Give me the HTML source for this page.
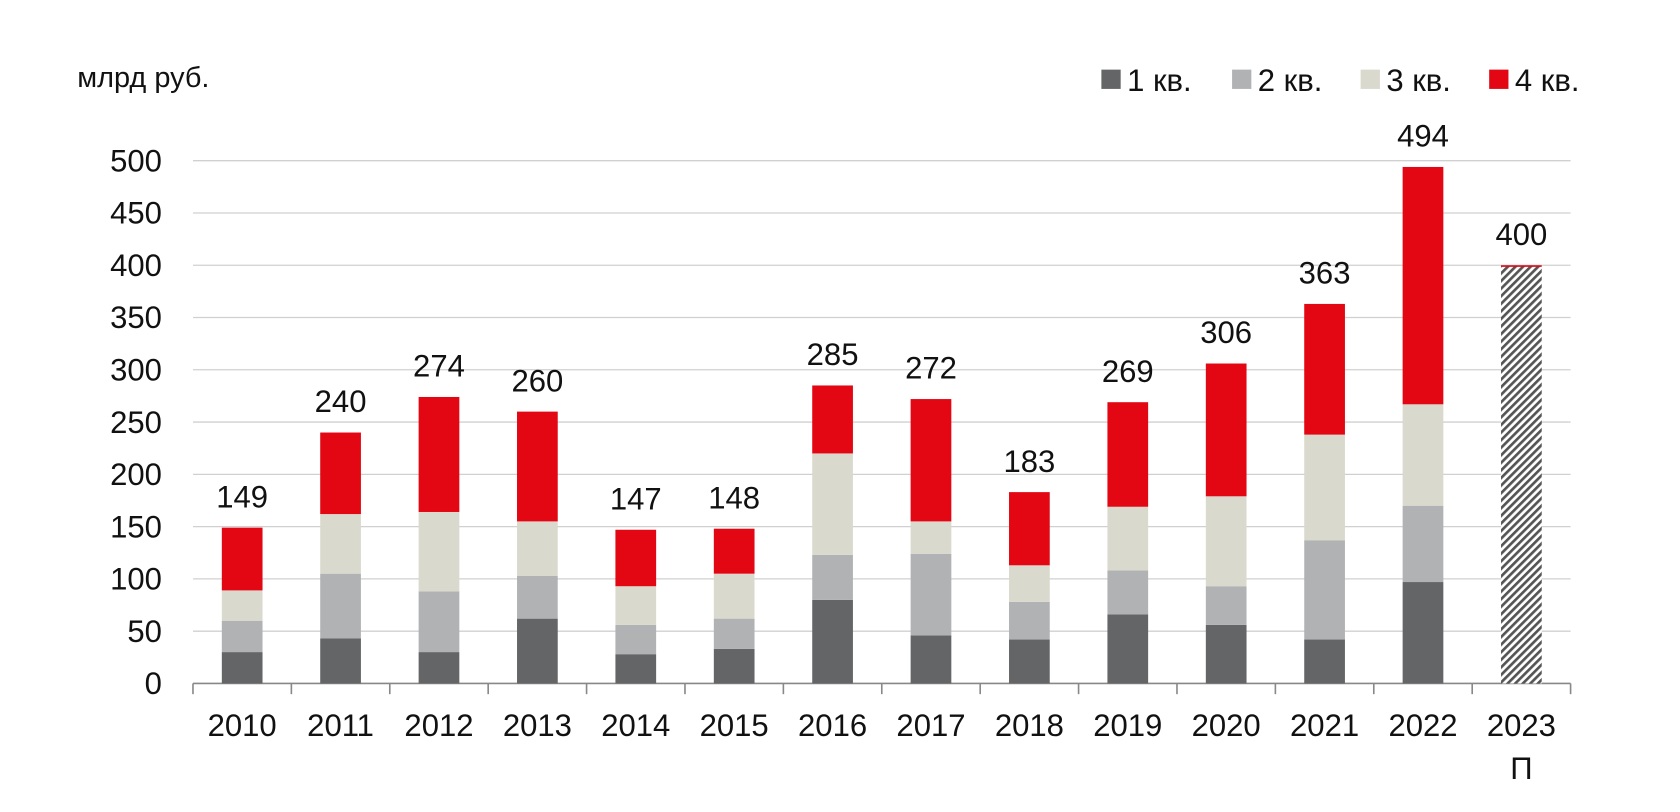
<!DOCTYPE html>
<html><head><meta charset="utf-8"><style>
body{margin:0;background:#fff;width:1680px;height:812px;overflow:hidden}
svg{font-family:"Liberation Sans",Arial,sans-serif;display:block}
</style></head><body>
<svg id="chart" width="1680" height="812" viewBox="0 0 1568 758" xmlns="http://www.w3.org/2000/svg">
<defs><pattern id="hatch" patternUnits="userSpaceOnUse" width="5" height="5" patternTransform="rotate(45)"><rect width="5" height="5" fill="#fff"/><rect width="2.5" height="5" fill="#555"/></pattern></defs>
<text x="72" y="81" font-size="27" fill="#111">млрд руб.</text>
<g id="legend"></g>
<g id="grid"></g><g id="bars"></g><g id="labels"></g>
</svg>
<script>
const categories=["2010","2011","2012","2013","2014","2015","2016","2017","2018","2019","2020","2021","2022","2023"];
const q1=[30,43,30,62,28,33,80,46,42,66,56,42,97,0];
const q2=[30,62,58,41,28,29,43,78,36,42,37,95,73,0];
const q3=[29,57,76,52,37,43,97,31,35,61,86,101,97,0];
const q4=[60,78,110,105,54,43,65,117,70,100,127,125,227,1];
const forecast=[0,0,0,0,0,0,0,0,0,0,0,0,0,399];
const totals=["149","240","274","260","147","148","285","272","183","269","306","363","494","400"];
const yTicks=[0,50,100,150,200,250,300,350,400,450,500];
const colors=["#646567","#b1b2b4","#dad9cd","#e30613"];
const names=["1 кв.","2 кв.","3 кв.","4 кв."];
const NS="http://www.w3.org/2000/svg";
const X0=180,X1=1466,Y0=638,Y500=150;
const bw=(X1-X0)/categories.length;
const y=v=>Y0-(Y0-Y500)*v/500;
const xc=i=>X0+bw*(i+0.5);
function mk(tag,attrs,parent){const e=document.createElementNS(NS,tag);for(const k in attrs)e.setAttribute(k,attrs[k]);parent.appendChild(e);return e;}
const grid=document.getElementById('grid'),bars=document.getElementById('bars'),labels=document.getElementById('labels'),legend=document.getElementById('legend');
yTicks.forEach(t=>{
 if(t>0){const l=mk('line',{x1:X0,x2:X1,y1:y(t),y2:y(t),stroke:'#d0d0d0','stroke-width':1.2},grid);
 
 }
 const tx=mk('text',{x:151,y:y(t)+10,'font-size':29,'text-anchor':'end',fill:'#111'},grid);tx.textContent=t;
 
 
});
const ax=mk('line',{x1:X0,x2:X1,y1:Y0,y2:Y0,stroke:'#888','stroke-width':1.5},grid);


for(let i=0;i<=categories.length;i++){const tk=mk('line',{x1:X0+bw*i,x2:X0+bw*i,y1:Y0,y2:Y0+10,stroke:'#888','stroke-width':1.5},grid);
 
 }
const series=[q1,q2,q3,q4];
const BW=38;
categories.forEach((c,i)=>{
 let cum=0;
 if(forecast[i]>0){const r=mk('rect',{x:xc(i)-BW/2,y:y(forecast[i]),width:BW,height:y(0)-y(forecast[i]),fill:'url(#hatch)'},bars);
  
  
  cum=forecast[i];}
 series.forEach((s,k)=>{if(s[i]<=0)return;
  const r=mk('rect',{x:xc(i)-BW/2,y:y(cum+s[i]),width:BW,height:Math.max(y(cum)-y(cum+s[i]),1.5),fill:colors[k]},bars);
  
  
  cum+=s[i];});
 const t=mk('text',{x:xc(i),y:y(cum)-19,'font-size':29,'text-anchor':'middle',fill:'#111'},labels);t.textContent=totals[i];
 
 
 const xl=mk('text',{x:xc(i),y:687,'font-size':29,'text-anchor':'middle',fill:'#111'},labels);xl.textContent=c;
 
 
});
const p=mk('text',{x:xc(13),y:727,'font-size':29,'text-anchor':'middle',fill:'#111'},labels);p.textContent="П";


const lx=[1028,1150,1270,1390];
names.forEach((n,k)=>{
 const r=mk('rect',{x:lx[k],y:65,width:18,height:18,fill:colors[k]},legend);
 
 
 const t=mk('text',{x:lx[k]+24,y:85,'font-size':29,fill:'#111'},legend);t.textContent=n;
 
 
});
</script>
</body></html>
